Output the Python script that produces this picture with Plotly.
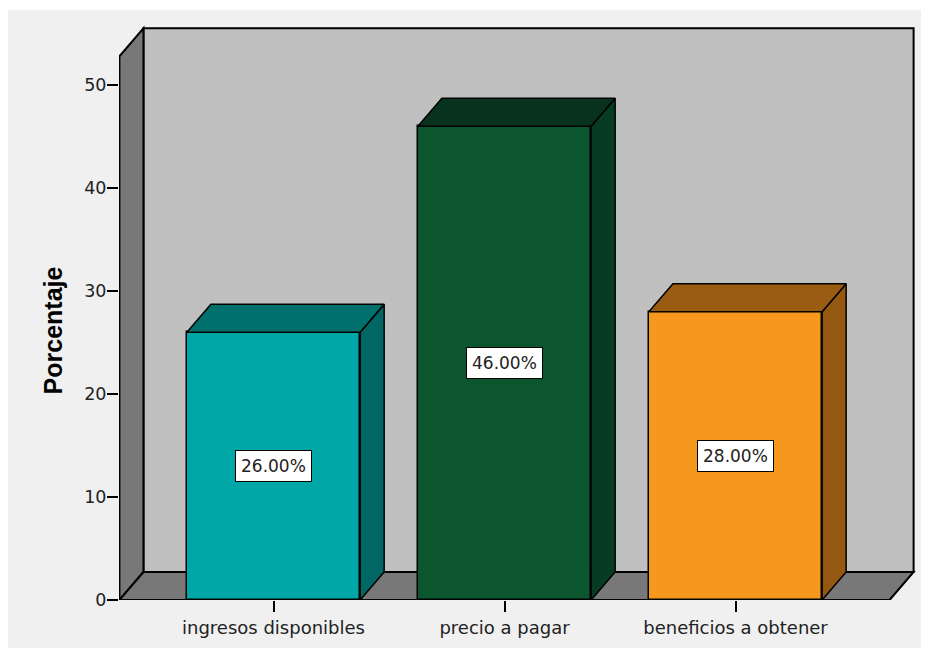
import plotly.graph_objects as go

# ---- data ----
categories = ["ingresos disponibles", "precio a pagar", "beneficios a obtener"]
values = [26.0, 46.0, 28.0]
labels = ["26.00%", "46.00%", "28.00%"]
y_ticks = [0, 10, 20, 30, 40, 50]

# ---- styles ----
front_colors = ["#00A7A7", "#0B552F", "#F7981E"]
top_colors = ["#00706D", "#07321D", "#9A5C12"]
side_colors = ["#006764", "#073B22", "#945811"]
wall_back = "#C0C0C0"
wall_side = "#787878"

# ---- geometry (axis units) ----
BW = 0.75          # bar width
DX = 0.104         # depth offset in x
DY = 2.72          # depth offset in y
X0, X1 = -0.667, 2.667
YTOP = 52.8

# page offset added by the html body margin
OFF = 8
W, H = 929 - OFF, 648 - OFF
# plot area in figure pixels
L, R, T, B = 119 - OFF, 10, 20 - OFF, 45
px_per_x = 231.0
px_per_y = 10.35
xr0 = (L - (273.5 - OFF)) / px_per_x
xr1 = xr0 + (W - L - R) / px_per_x
yr1 = (H - B - T) / px_per_y
PW = W - L - R
PH = H - B - T

def px_x(p):   # figure pixel -> paper x
    return (p - L) / PW

def px_y(p):   # figure pixel -> paper y
    return (H - B - p) / PH

fig = go.Figure()

xs = list(range(len(categories)))

# front faces
fig.add_trace(go.Bar(
    x=xs, y=values, width=BW,
    marker=dict(color=front_colors, line=dict(color="black", width=1.5)),
    hoverinfo="skip", showlegend=False,
))

# top and side faces
for i, v in enumerate(values):
    l = xs[i] - BW / 2
    r = xs[i] + BW / 2
    fig.add_trace(go.Scatter(
        x=[r, r, r + DX, r + DX, r], y=[0, v, v + DY, DY, 0],
        fill="toself", fillcolor=side_colors[i], mode="lines",
        line=dict(color="black", width=1.5), hoverinfo="skip", showlegend=False))
    fig.add_trace(go.Scatter(
        x=[l, r, r + DX, l + DX, l], y=[v, v, v + DY, v + DY, v],
        fill="toself", fillcolor=top_colors[i], mode="lines",
        line=dict(color="black", width=1.5), hoverinfo="skip", showlegend=False))

shapes = []
# thin white strip at top (outside the grey panel)
shapes.append(dict(type="rect", xref="paper", yref="paper", layer="below",
                   x0=px_x(0), x1=px_x(W), y0=px_y(0), y1=px_y(10 - OFF),
                   fillcolor="white", line=dict(width=0)))

def path(pts):
    return "M " + " L ".join(f"{x},{y}" for x, y in pts) + " Z"

edge = dict(color="black", width=2)
# back wall
shapes.append(dict(type="path", xref="x", yref="y", layer="below",
                   path=path([(X0 + DX, DY), (X1 + DX, DY), (X1 + DX, YTOP + DY), (X0 + DX, YTOP + DY)]),
                   fillcolor=wall_back, line=edge))
# left wall
shapes.append(dict(type="path", xref="x", yref="y", layer="below",
                   path=path([(X0, 0), (X0, YTOP), (X0 + DX, YTOP + DY), (X0 + DX, DY)]),
                   fillcolor=wall_side, line=edge))
# floor
shapes.append(dict(type="path", xref="x", yref="y", layer="below",
                   path=path([(X0, 0), (X1, 0), (X1 + DX, DY), (X0 + DX, DY)]),
                   fillcolor=wall_side, line=edge))

annotations = []
for i, v in enumerate(values):
    annotations.append(dict(x=xs[i], y=v / 2, xref="x", yref="y", text=labels[i],
                            showarrow=False, bgcolor="white", bordercolor="black",
                            borderwidth=1, borderpad=5,
                            font=dict(family="DejaVu Sans", size=17, color="#222222")))
annotations.append(dict(x=px_x(53 - OFF), y=px_y(332 - OFF),
                        xref="paper", yref="paper", text="<b>Porcentaje</b>",
                        textangle=-90, showarrow=False, xanchor="center", yanchor="middle",
                        font=dict(family="Liberation Sans, Arial", size=25, color="black")))

fig.update_layout(
    width=W, height=H,
    margin=dict(l=L, r=R, t=T, b=B, pad=0),
    paper_bgcolor="#F0F0F0", plot_bgcolor="rgba(0,0,0,0)",
    shapes=shapes, annotations=annotations,
    bargap=0,
    xaxis=dict(range=[xr0, xr1], tickvals=xs, ticktext=categories,
               showgrid=False, zeroline=False, showline=False,
               ticks="outside", ticklen=11, tickwidth=1.5, tickcolor="black",
               tickfont=dict(family="DejaVu Sans", size=18, color="#222222")),
    yaxis=dict(range=[0, yr1], tickvals=y_ticks,
               showgrid=False, zeroline=False, showline=False,
               ticks="outside", ticklen=11, tickwidth=1.5, tickcolor="black",
               ticklabelstandoff=-3,
               tickfont=dict(family="DejaVu Sans", size=17.5, color="#222222")),
    showlegend=False,
)

fig.write_html("out.html")
